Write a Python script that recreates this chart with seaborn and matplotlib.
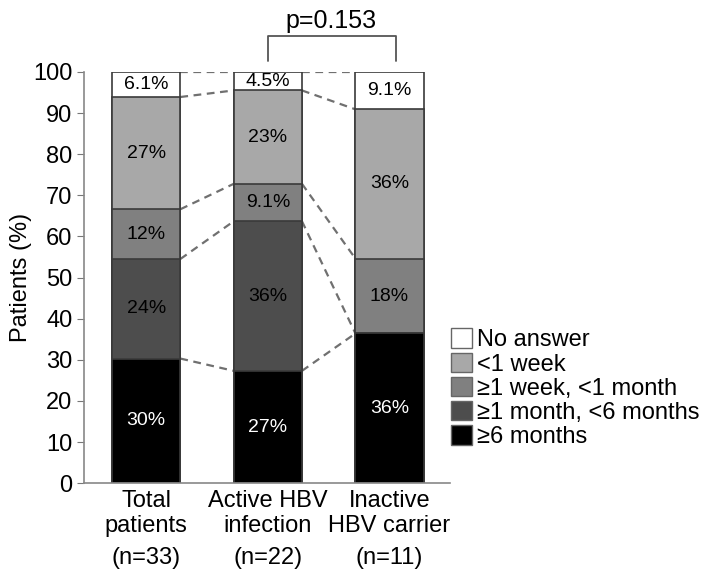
import numpy as np
import pandas as pd
import matplotlib
matplotlib.use("Agg")
import matplotlib.pyplot as plt
from matplotlib.patches import Patch
import seaborn as sns

groups = ["Total\npatients", "Active HBV\ninfection", "Inactive\nHBV carrier"]
n_labels = ["(n=33)", "(n=22)", "(n=11)"]
categories = ["≥6 months", "≥1 month, <6 months", "≥1 week, <1 month", "<1 week", "No answer"]
colors = ["#000000", "#4d4d4d", "#808080", "#a8a8a8", "#ffffff"]

# percentages per group, bottom to top
total_pct = [30.3, 24.2, 12.1, 27.3, 6.1]
active_pct = [27.3, 36.4, 9.1, 22.7, 4.5]
inactive_pct = [36.4, 0.0, 18.2, 36.3, 9.1]

p_text = "p=0.153"

sns.set_style("ticks")
plt.rcParams['font.family'] = ['Liberation Sans', 'DejaVu Sans']
plt.rcParams['text.color'] = 'black'
plt.rcParams['axes.labelcolor'] = 'black'
plt.rcParams['xtick.labelcolor'] = 'black'
plt.rcParams['ytick.labelcolor'] = 'black'

vals = np.array([total_pct, active_pct, inactive_pct])
cum = vals.cumsum(axis=1)

rows = []
for gi, g in enumerate(groups):
    for ci, c in enumerate(categories):
        rows.append({"Group": g, "Category": c, "Pct": vals[gi, ci], "Cum": cum[gi, ci]})
df = pd.DataFrame(rows)

fig = plt.figure(figsize=(7.08, 5.80), dpi=100)
ax = fig.add_axes([0.119, 0.167, 0.517, 0.709])

width = 0.56
# draw tallest (cumulative) first, smaller ones on top
for ci in range(len(categories) - 1, -1, -1):
    sub = df[df["Category"] == categories[ci]]
    sns.barplot(data=sub, x="Group", y="Cum", order=groups, color=colors[ci],
                saturation=1, width=width, edgecolor="#3a3a3a", linewidth=1.2,
                ax=ax, zorder=2)

# dashed connectors between bars
for gi in range(len(groups) - 1):
    left = np.concatenate([[0], cum[gi]])
    right = np.concatenate([[0], cum[gi + 1]])
    for k in range(1, len(left)):
        ax.plot([gi + width / 2, gi + 1 - width / 2], [left[k], right[k]],
                ls=(0, (3.5, 2.5)), color="#707070", lw=1.6, zorder=1)

# segment labels
for gi in range(len(groups)):
    for ci in range(len(categories)):
        v = vals[gi, ci]
        if v <= 0:
            continue
        lab = f"{v:.0f}%" if v >= 10 else f"{v:.1f}%"
        y = cum[gi, ci] - v / 2
        ax.text(gi, y, lab, ha="center", va="center", fontsize=14,
                color="white" if ci == 0 else "black", zorder=3)

ax.set_xlim(-0.51, 2.5)
ax.set_ylim(0, 100)
ax.set_yticks(range(0, 101, 10))
ax.set_xlabel("")
ax.set_ylabel("Patients (%)", fontsize=17, labelpad=1)
ax.tick_params(axis="y", labelsize=17, length=5, color="#777777")
ax.tick_params(axis="x", labelsize=17, length=0, pad=5)
for s in ["left", "bottom"]:
    ax.spines[s].set_color("#888888")
    ax.spines[s].set_linewidth(1.2)
sns.despine(ax=ax)

for gi, t in enumerate(n_labels):
    ax.text(gi, -0.183, t, transform=ax.get_xaxis_transform(), ha="center",
            va="center", fontsize=17)

# p-value bracket
bx = [1, 1, 2.05, 2.05]
by = [102.7, 108.7, 108.7, 102.7]
ax.plot(bx, by, color="#555555", lw=1.3, clip_on=False)
ax.text(1.52, 112.3, p_text, ha="center", va="center", fontsize=18)

handles = [Patch(facecolor=colors[i], edgecolor="#666666", label=categories[i])
           for i in range(len(categories) - 1, -1, -1)]
fig.legend(handles=handles, loc="upper left", bbox_to_anchor=(0.623, 0.45),
           frameon=False, fontsize=17, handlelength=0.9, handleheight=0.9,
           handletextpad=0.2, labelspacing=0.05, borderaxespad=0)

fig.savefig("out.png", dpi=100)
